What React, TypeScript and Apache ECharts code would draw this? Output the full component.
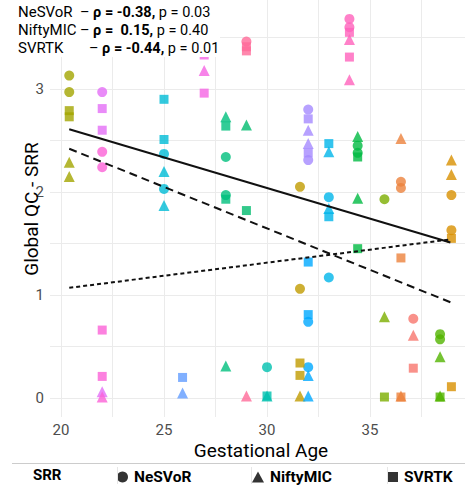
import React, { useEffect, useRef } from "react";
import * as echarts from "echarts";

// Subjects: gestational age (weeks)
const subjectGA = [20.4, 22.0, 22.0, 25.0, 25.9, 26.95, 28.0, 29.0, 29.0, 30.0, 31.6, 32.0, 32.0, 33.0, 34.0, 34.4, 35.7, 36.5, 37.1, 38.4, 38.95];
const subjectColors = ["#A3A500", "#E36EF6", "#FB61D7", "#00BCD6", "#619CFF", "#F564E3", "#00BF7D", "#00BB6E", "#FF6A98", "#00C0AF", "#C09B00", "#A58AFF", "#00A9FF", "#00B5EA", "#FF62BC", "#00BA42", "#7CAE00", "#EC823C", "#F8766D", "#53B400", "#D89000"];

// [subject index, Global QC score]
const nesvorScores: [number, number][] = [
  [0, 3.13], [0, 2.97], [1, 2.97], [2, 2.39], [2, 2.24], [3, 2.37], [3, 2.03],
  [6, 2.34], [6, 1.97], [8, 3.46], [9, 0.30], [10, 2.05], [10, 1.06],
  [11, 2.80], [11, 2.31], [12, 0.74], [12, 0.30], [13, 1.95], [13, 1.17],
  [14, 3.68], [14, 3.60], [15, 2.45], [15, 2.38], [16, 1.93], [17, 2.10], [17, 2.04],
  [18, 0.77], [19, 0.62], [19, 0.57], [20, 1.97], [20, 1.63],
];
const niftymicScores: [number, number][] = [
  [0, 2.29], [0, 2.15], [1, 0.06], [2, 0.01], [3, 2.20], [3, 1.87], [4, 0.05],
  [5, 3.18], [6, 2.73], [6, 0.31], [7, 2.65], [8, 0.02], [9, 0.02], [10, 0.02],
  [11, 2.60], [11, 2.47], [12, 0.22], [12, 0.02], [13, 2.39], [13, 1.84],
  [14, 3.48], [14, 3.09], [15, 2.54], [15, 1.94], [16, 0.79], [17, 2.52], [17, 0.02],
  [18, 0.61], [19, 0.40], [19, 0.02], [20, 2.31], [20, 2.17],
];
const svrtkScores: [number, number][] = [
  [0, 2.79], [0, 2.73], [1, 2.81], [1, 2.60], [2, 0.66], [2, 0.21], [3, 2.90], [3, 2.51],
  [4, 0.20], [5, 3.33], [5, 2.96], [6, 2.64], [6, 1.93], [7, 1.82], [8, 3.41], [8, 3.37],
  [9, 0.02], [10, 0.34], [10, 0.22], [11, 2.71], [11, 2.38], [12, 1.32], [12, 0.81],
  [13, 2.47], [13, 1.76], [14, 3.55], [14, 3.31], [15, 2.34], [15, 1.45], [16, 0.01],
  [17, 1.36], [17, 0.01], [18, 0.29], [19, 0.01], [20, 1.55], [20, 0.11],
];

// Linear fits (endpoints over the GA range)
const fitNeSVoR = [[20.4, 2.61], [38.9, 1.51]];
const fitNiftyMIC = [[20.4, 1.07], [38.9, 1.54]];
const fitSVRTK = [[20.4, 2.42], [38.9, 0.93]];

const methods = ["NeSVoR", "NiftyMIC", "SVRTK"];
const rhoText = ["-0.38", " 0.15", "-0.44"];
const pText = ["0.03", "0.40", "0.01"];

const xTicks = [20, 25, 30, 35];
const xGrid = [20, 22.5, 25, 27.5, 30, 32.5, 35, 37.5];
const yTicks = [0, 1, 2, 3];
const yGrid = [0, 0.5, 1, 1.5, 2, 2.5, 3, 3.5];

const FONT = "Roboto";

function pts(scores: [number, number][]) {
  return scores.map(([s, v]) => ({
    value: [subjectGA[s], v],
    itemStyle: { color: subjectColors[s] },
  }));
}

export default function App() {
  const ref = useRef<HTMLDivElement>(null);
  useEffect(() => {
    document.body.style.margin = "0";
    const chart = echarts.init(ref.current!, null, { renderer: "svg" });
    const nameX = [18, 18, 18];
    const dashX = [80, 80, 89];
    const lineY = [12, 30, 48];
    const topTexts: any[] = [];
    methods.forEach((m, i) => {
      topTexts.push({
        type: "text", x: nameX[i], y: lineY[i], z: 101,
        style: { text: m, font: `15px ${FONT}`, fill: "#000", verticalAlign: "middle" },
      });
      topTexts.push({
        type: "text", x: dashX[i], y: lineY[i], z: 101,
        style: {
          text: `{n|– }{b|ρ = ${rhoText[i]},}{n| p = ${pText[i]}}`,
          verticalAlign: "middle",
          rich: {
            n: { fontSize: 14.5, fontFamily: FONT, fill: "#000" },
            b: { fontSize: 14.5, fontFamily: FONT, fontWeight: "bold", fill: "#000" },
          },
        },
      });
    });
    const legendCommon = {
      top: 469, padding: 0, itemWidth: 11, itemHeight: 11, itemGap: 5, selectedMode: false,
      textStyle: { fontFamily: FONT, fontSize: 15.5, fontWeight: "bold", color: "#000", padding: [0, 0, 0, 1] },
    };
    chart.setOption({
      animation: false,
      grid: { left: 50, right: 0, top: 0, bottom: 70, containLabel: false },
      xAxis: {
        type: "value", min: 19.466, max: 39.61,
        axisLine: { show: false },
        axisTick: { show: false, customValues: xGrid },
        axisLabel: { customValues: xTicks, color: "#4D4D4D", fontFamily: FONT, fontSize: 15, margin: 5 },
        splitLine: { show: true, lineStyle: { color: "#EBEBEB", width: 1 } },
      },
      yAxis: {
        type: "value", min: -0.184, max: 3.864,
        axisLine: { show: false },
        axisTick: { show: false, customValues: yGrid },
        axisLabel: { customValues: yTicks, color: "#4D4D4D", fontFamily: FONT, fontSize: 15, margin: 6 },
        splitLine: { show: true, lineStyle: { color: "#EBEBEB", width: 1 } },
      },
      legend: [
        { ...legendCommon, left: 117, data: [{ name: "NeSVoR", icon: "circle" }] },
        { ...legendCommon, left: 252, data: [{ name: "NiftyMIC", icon: "triangle" }], itemWidth: 12, itemHeight: 11 },
        { ...legendCommon, left: 388, data: [{ name: "SVRTK", icon: "rect" }], itemWidth: 10, itemHeight: 10 },
      ],
      series: [
        { name: "NeSVoR", type: "scatter", symbol: "circle", symbolSize: 10, itemStyle: { color: "#000" }, data: pts(nesvorScores), z: 2 },
        { name: "NiftyMIC", type: "scatter", symbol: "triangle", symbolSize: 11, itemStyle: { color: "#000" }, data: pts(niftymicScores), z: 2 },
        { name: "SVRTK", type: "scatter", symbol: "rect", symbolSize: 9, itemStyle: { color: "#000" }, data: pts(svrtkScores), z: 2 },
        { name: "fit1", type: "line", data: fitNeSVoR, symbol: "none", lineStyle: { color: "#111", width: 2 }, z: 5, silent: true },
        { name: "fit2", type: "line", data: fitNiftyMIC, symbol: "none", lineStyle: { color: "#111", width: 2, type: [4, 3] }, z: 5, silent: true },
        { name: "fit3", type: "line", data: fitSVRTK, symbol: "none", lineStyle: { color: "#111", width: 2, type: [8, 5] }, z: 5, silent: true },
      ],
      graphic: [
        { type: "rect", shape: { x: 0, y: 0, width: 220, height: 57 }, style: { fill: "#fff" }, z: 100 },
        ...topTexts,
        {
          type: "text", x: 261, y: 450, z: 101,
          style: { text: "Gestational Age", font: `19px ${FONT}`, fill: "#000", align: "center", verticalAlign: "middle" },
        },
        {
          type: "text", x: 31, y: 209, rotation: Math.PI / 2, z: 101,
          style: { text: "Global QC - SRR", font: `19px ${FONT}`, fill: "#000", align: "center", verticalAlign: "middle" },
        },
        { type: "line", shape: { x1: 12, y1: 463.5, x2: 465, y2: 463.5 }, style: { stroke: "#cccccc", lineWidth: 1 }, z: 101 },
        {
          type: "text", x: 33, y: 475, z: 101,
          style: { text: "SRR", font: `bold 15px ${FONT}`, fill: "#000", verticalAlign: "middle" },
        },
        { type: "line", shape: { x1: 117.5, y1: 467, x2: 117.5, y2: 484 }, style: { stroke: "#e6e6e6", lineWidth: 1 }, z: 101 },
        { type: "line", shape: { x1: 251.5, y1: 467, x2: 251.5, y2: 484 }, style: { stroke: "#e6e6e6", lineWidth: 1 }, z: 101 },
        { type: "line", shape: { x1: 387.5, y1: 467, x2: 387.5, y2: 484 }, style: { stroke: "#e6e6e6", lineWidth: 1 }, z: 101 },
      ],
    });
    return () => chart.dispose();
  }, []);
  return <div ref={ref} style={{ width: 465, height: 487 }} />;
}
